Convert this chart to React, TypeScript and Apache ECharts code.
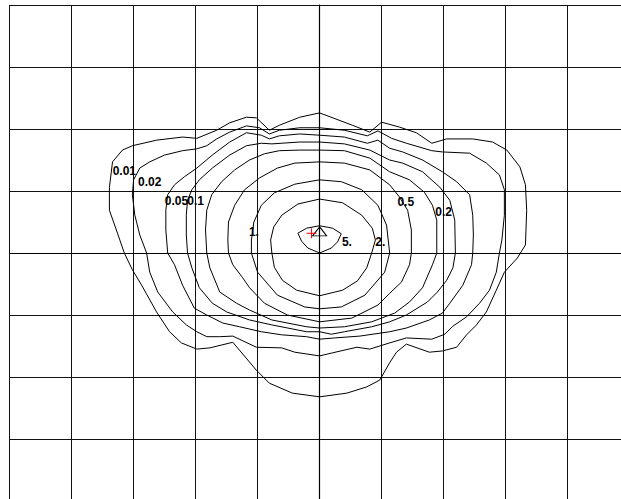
import React, { useEffect, useRef } from "react";
import * as echarts from "echarts";

// Isolux contour lines, grid units (1 cell = 1 unit), x right, y up
const c001: number[][] = [
  [-3.34, 1.47], [-3.18, 1.66], [-3.02, 1.73], [-2.63, 1.82], [-2.21, 1.87], [-1.98, 1.85], [-1.66, 1.98], [-1.45, 2.1],
  [-1.18, 2.19], [-1.02, 2.18], [-0.81, 1.98], [-0.65, 2.06], [-0.32, 2.19], [0, 2.26], [0.53, 2.06], [0.81, 1.95],
  [1.0, 2.11], [1.29, 2.03], [1.56, 1.94], [1.81, 1.77], [2.05, 1.84], [2.47, 1.84], [2.79, 1.79], [3.02, 1.66],
  [3.23, 1.39], [3.32, 1.1], [3.34, 0.69], [3.32, 0.13], [3.19, -0.08], [2.98, -0.31], [2.85, -0.6], [2.69, -0.95],
  [2.53, -1.16], [2.37, -1.32], [2.21, -1.52], [1.98, -1.58], [1.77, -1.6], [1.4, -1.47], [1.24, -1.6], [1.13, -1.77],
  [0.97, -2.05], [0.76, -2.16], [0.44, -2.26], [0, -2.32], [-0.44, -2.26], [-0.81, -2.1], [-1.02, -1.89], [-1.4, -1.44],
  [-1.77, -1.53], [-1.98, -1.55], [-2.23, -1.45], [-2.42, -1.27], [-2.63, -0.95], [-2.87, -0.52], [-3.02, -0.27],
  [-3.15, 0], [-3.26, 0.32], [-3.39, 0.69], [-3.39, 1.06], [-3.34, 1.47],
];
const c002: number[][] = [
  [-3.0, 1.18], [-2.9, 1.37], [-2.74, 1.47], [-2.5, 1.58], [-2.21, 1.65], [-1.98, 1.68], [-1.82, 1.73], [-1.66, 1.84],
  [-1.45, 1.95], [-1.18, 2.05], [-0.97, 2.02], [-0.81, 1.92], [-0.65, 1.98], [-0.32, 2.02], [0, 2.02], [0.4, 1.98],
  [0.77, 1.89], [0.94, 1.97], [1.16, 1.85], [1.4, 1.77], [1.81, 1.65], [1.98, 1.63], [2.42, 1.61], [2.69, 1.45],
  [2.9, 1.26], [2.98, 1.02], [2.98, 0.61], [2.94, 0.21], [2.9, 0], [2.85, -0.31], [2.74, -0.6], [2.58, -0.81],
  [2.37, -1.03], [2.15, -1.18], [2.02, -1.31], [1.81, -1.39], [1.4, -1.37], [1.13, -1.45], [0.81, -1.55], [0.6, -1.52],
  [0.21, -1.61], [0, -1.66], [-0.4, -1.6], [-0.61, -1.53], [-1.02, -1.52], [-1.4, -1.34], [-1.61, -1.35], [-1.82, -1.35],
  [-1.98, -1.27], [-2.15, -1.16], [-2.37, -0.95], [-2.61, -0.63], [-2.74, -0.31], [-2.79, 0], [-2.9, 0.29],
  [-2.98, 0.61], [-3.02, 0.94], [-3.0, 1.18],
];
const c005: number[][] = [
  [-2.48, 0.69], [-2.45, 0.94], [-2.34, 1.1], [-2.18, 1.23], [-1.98, 1.37], [-1.73, 1.58], [-1.45, 1.79], [-1.18, 1.94],
  [-0.94, 1.9], [-0.81, 1.84], [-0.65, 1.89], [-0.32, 1.92], [0, 1.9], [0.4, 1.87], [0.77, 1.77], [0.94, 1.82],
  [1.13, 1.69], [1.34, 1.63], [1.66, 1.5], [1.98, 1.31], [2.21, 1.15], [2.42, 0.94], [2.47, 0.61], [2.48, 0.29],
  [2.47, 0], [2.45, -0.19], [2.31, -0.52], [2.1, -0.81], [1.98, -0.97], [1.77, -1.08], [1.4, -1.21], [1.13, -1.27],
  [0.65, -1.34], [0.24, -1.37], [0, -1.39], [-0.21, -1.35], [-0.61, -1.32], [-0.94, -1.27], [-1.29, -1.19],
  [-1.56, -1.13], [-1.82, -1.0], [-2.02, -0.89], [-2.21, -0.52], [-2.34, -0.19], [-2.45, 0], [-2.48, 0.37], [-2.48, 0.69],
];
const c01: number[][] = [
  [-2.15, 0.61], [-2.13, 0.85], [-2.06, 1.02], [-1.94, 1.18], [-1.73, 1.37], [-1.45, 1.58], [-1.18, 1.73], [-0.94, 1.77],
  [-0.77, 1.76], [-0.32, 1.79], [0, 1.79], [0.4, 1.76], [0.81, 1.66], [1.13, 1.5], [1.34, 1.45], [1.66, 1.31],
  [1.94, 1.06], [2.1, 0.85], [2.18, 0.53], [2.19, 0], [2.15, -0.24], [2.05, -0.44], [1.9, -0.63], [1.74, -0.79],
  [1.4, -1.0], [1.13, -1.11], [0.84, -1.19], [0.4, -1.27], [0.19, -1.31], [0, -1.27], [-0.21, -1.27], [-0.77, -1.16],
  [-1.13, -1.08], [-1.5, -0.95], [-1.73, -0.81], [-1.94, -0.56], [-2.06, -0.24], [-2.13, 0], [-2.15, 0.29], [-2.15, 0.61],
];
const c02: number[][] = [
  [-1.84, 0.37], [-1.82, 0.69], [-1.74, 0.94], [-1.58, 1.15], [-1.37, 1.34], [-1.13, 1.5], [-0.89, 1.6], [-0.65, 1.65],
  [-0.32, 1.66], [0, 1.66], [0.4, 1.65], [0.81, 1.53], [1.13, 1.31], [1.45, 1.18], [1.69, 0.98], [1.82, 0.77],
  [1.89, 0.53], [1.89, 0], [1.82, -0.19], [1.66, -0.56], [1.45, -0.79], [1.21, -0.97], [0.84, -1.11], [0.4, -1.19],
  [0, -1.21], [-0.21, -1.19], [-0.77, -1.08], [-1.13, -0.92], [-1.34, -0.81], [-1.61, -0.63], [-1.77, -0.24],
  [-1.82, 0], [-1.84, 0.37],
];
const c05: number[][] = [
  [-1.48, 0.21], [-1.47, 0.5], [-1.37, 0.77], [-1.21, 1.02], [-0.97, 1.21], [-0.68, 1.37], [-0.4, 1.45], [0, 1.47],
  [0.4, 1.45], [0.81, 1.34], [1.13, 1.1], [1.29, 0.9], [1.42, 0.69], [1.48, 0.37], [1.48, 0], [1.45, -0.19],
  [1.32, -0.47], [1.13, -0.65], [0.94, -0.84], [0.52, -1.05], [0, -1.11], [-0.52, -1.0], [-0.89, -0.81],
  [-1.13, -0.56], [-1.24, -0.4], [-1.4, -0.19], [-1.47, 0], [-1.48, 0.21],
];
const c1: number[][] = [
  [-1.1, 0.21], [-1.06, 0.5], [-0.94, 0.77], [-0.73, 0.97], [-0.4, 1.11], [0, 1.18], [0.35, 1.15], [0.68, 1.02],
  [0.94, 0.77], [1.08, 0.45], [1.13, 0], [1.05, -0.31], [0.73, -0.68], [0.35, -0.87], [0, -0.9], [-0.24, -0.87],
  [-0.68, -0.68], [-1.0, -0.31], [-1.1, 0], [-1.1, 0.21],
];
const c2: number[][] = [
  [0, 0.87], [0.37, 0.81], [0.68, 0.61], [0.85, 0.4], [0.9, 0.21], [0.84, 0], [0.76, -0.24], [0.61, -0.45],
  [0.37, -0.6], [0, -0.69], [-0.37, -0.6], [-0.6, -0.44], [-0.73, -0.23], [-0.77, 0], [-0.79, 0.21], [-0.74, 0.42],
  [-0.61, 0.61], [-0.35, 0.79], [0, 0.87],
];
const c5: number[][] = [
  [-0.35, 0.32], [-0.21, 0.4], [0, 0.44], [0.21, 0.4], [0.35, 0.31], [0.29, 0.18], [0.19, 0.08], [0, 0],
  [-0.19, 0.08], [-0.29, 0.19], [-0.35, 0.32],
];

const contours = [c001, c002, c005, c01, c02, c05, c1, c2, c5];

const labelNames = ["0.01", "0.02", "0.05", "0.1", "1.", "5.", "2.", "0.5", "0.2"];
const labelPos: number[][] = [
  [-3.15, 1.32], [-2.74, 1.15], [-2.31, 0.84], [-2.0, 0.84], [-1.06, 0.34], [0.44, 0.18], [0.98, 0.18], [1.39, 0.82], [2.0, 0.66],
];

const sourcePoint: number[] = [0, 0.35];
const aimPoint: number[] = [-0.13, 0.32];

export default function App() {
  const ref = useRef<HTMLDivElement>(null);
  useEffect(() => {
    if (!ref.current) return;
    const chart = echarts.init(ref.current, null, { renderer: "svg" });
    const axisCommon = {
      type: "value" as const,
      interval: 1,
      axisLabel: { show: false },
      axisTick: { show: false },
      axisLine: { show: true, onZero: true, lineStyle: { color: "#000", width: 1.2 } },
      splitLine: { show: true, lineStyle: { color: "#111", width: 1 } },
    };
    const lineSeries = contours.map((c) => ({
      type: "line",
      data: c,
      showSymbol: false,
      symbol: "none",
      smooth: false,
      lineStyle: { color: "#000", width: 1 },
      silent: true,
      z: 3,
    }));
    chart.setOption({
      animation: false,
      backgroundColor: "#fff",
      grid: {
        left: 9.6,
        top: 5,
        width: 620,
        height: 496,
        containLabel: false,
        outerBoundsMode: "none",
      },
      xAxis: { ...axisCommon, min: -5, max: 5 },
      yAxis: { ...axisCommon, min: -4, max: 4 },
      series: [
        ...lineSeries,
        {
          type: "scatter",
          data: labelNames.map((n, i) => ({ name: n, value: labelPos[i] })),
          symbolSize: 1,
          silent: true,
          z: 5,
          itemStyle: { color: "rgba(0,0,0,0)", opacity: 1 },
          label: {
            show: true,
            position: "inside",
            formatter: "{b}",
            color: "#000",
            opacity: 1,
            textBorderWidth: 0,
            textBorderColor: "transparent",
            fontWeight: "bold",
            fontSize: 12,
            fontFamily: "Arial, Liberation Sans, sans-serif",
          },
        },
        {
          type: "scatter",
          data: [sourcePoint],
          symbol: "triangle",
          symbolSize: [14, 9],
          silent: true,
          z: 6,
          itemStyle: { color: "rgba(0,0,0,0)", borderColor: "#000", borderWidth: 1, opacity: 1 },
        },
        {
          type: "scatter",
          data: [aimPoint],
          symbol: "path://M0,4.5 L10,4.5 L10,5.5 L0,5.5 Z M4.5,0 L5.5,0 L5.5,10 L4.5,10 Z",
          symbolSize: 10,
          silent: true,
          z: 7,
          itemStyle: { color: "#ff0000", opacity: 1 },
        },
      ],
    });
    return () => chart.dispose();
  }, []);
  return (
    <div
      ref={ref}
      style={{ position: "absolute", left: 0, top: 0, width: 621, height: 499, background: "#fff" }}
    />
  );
}
